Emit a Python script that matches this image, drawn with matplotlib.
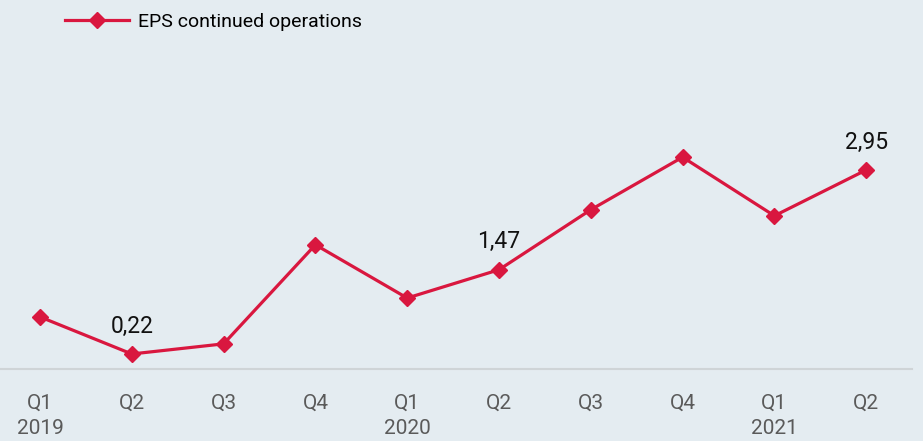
import matplotlib.pyplot as plt

quarters = ["Q1\n2019", "Q2", "Q3", "Q4", "Q1\n2020", "Q2", "Q3", "Q4", "Q1\n2021", "Q2"]
eps = [0.77, 0.22, 0.37, 1.84, 1.05, 1.47, 2.36, 3.14, 2.27, 2.95]
labelled = {1: "0,22", 5: "1,47", 9: "2,95"}

bg = "#e4ecf1"
red = "#d9173f"

plt.rcParams["font.family"] = ["Roboto", "DejaVu Sans"]

fig = plt.figure(figsize=(9.23, 4.41), dpi=100, facecolor=bg)
W, H = 923, 441
y0 = 368.8
ax = fig.add_axes([0, 1 - y0 / H, 912 / W, (y0 - 60) / H])
ax.set_facecolor(bg)

x = list(range(len(eps)))
ax.plot(x, eps, color=red, lw=2.3, marker="D", markersize=8,
        label="EPS continued operations")

for i, txt in labelled.items():
    ax.annotate(txt, (i, eps[i]), xytext=(0, 20), textcoords="offset points",
                ha="center", va="center", fontsize=16.5, color="#111111")

ax.set_xlim(-40 / 91.8, (912 - 40) / 91.8)
ax.set_ylim(0, (y0 - 60) / 67.4)
ax.set_xticks(x)
ax.set_xticklabels(quarters, fontsize=15, color="#5a5a5a", linespacing=1.4)
ax.tick_params(axis="x", length=0, pad=18)
ax.set_yticks([])
for s in ["top", "left", "right"]:
    ax.spines[s].set_visible(False)
ax.spines["bottom"].set_color("#cfd4d7")
ax.spines["bottom"].set_linewidth(1.5)

fig.legend(loc="center left", bbox_to_anchor=(65 / W, 1 - 22 / H), frameon=False,
           borderpad=0, borderaxespad=0, handlelength=3.3,
           handletextpad=0.45, prop={"size": 14})

fig.savefig("out.png", dpi=100, facecolor=bg)
